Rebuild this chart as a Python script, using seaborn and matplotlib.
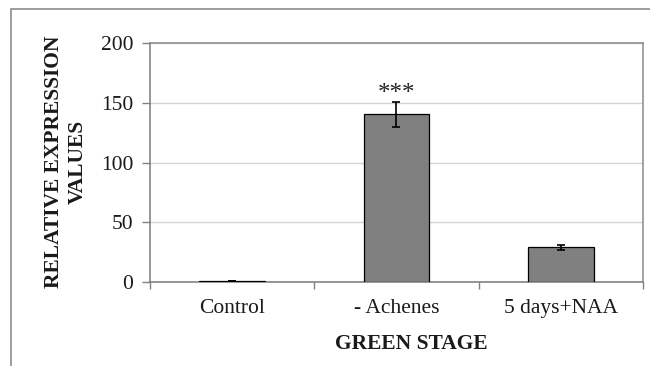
import matplotlib
matplotlib.use("Agg")
import matplotlib.pyplot as plt
from matplotlib.patches import Rectangle
import seaborn as sns
import pandas as pd

# Relative expression at the green stage
conditions = ["Control", "- Achenes", "5 days+NAA"]
expression = [1.0, 140.5, 29.0]
errors = [0.0, 10.5, 2.0]
significance = ["", "***", ""]
y_ticks = [0, 50, 100, 150, 200]

sns.set_theme(style="white")
plt.rcParams["font.family"] = ["Liberation Serif", "DejaVu Serif"]

fig = plt.figure(figsize=(6.5, 3.66), dpi=100)
ax = fig.add_axes([150 / 650, 1 - 282 / 366, 493 / 650, 239 / 366])

df = pd.DataFrame({"condition": conditions, "expression": expression})
sns.barplot(data=df, x="condition", y="expression", ax=ax, color="#808080",
            saturation=1, width=0.4, edgecolor="black", linewidth=0.9,
            errorbar=None, zorder=3)

ax.errorbar(range(len(conditions)), expression, yerr=errors, fmt="none",
            ecolor="black", elinewidth=1.2, capsize=3, capthick=1.2, zorder=4)

for i, (v, e, s) in enumerate(zip(expression, errors, significance)):
    if s:
        ax.text(i, v + e + 6.5, s, ha="center", va="center", fontsize=18,
                color="#222222")

ax.set_ylim(0, 200)
ax.set_xlim(-0.5, len(conditions) - 0.5)
ax.set_yticks(y_ticks)
ax.yaxis.grid(True, color="#d4d4d4", linewidth=1.0, zorder=0)
ax.set_axisbelow(True)

# category boundary ticks on x, labels at centers
ax.set_xticks([i + 0.5 for i in range(-1, len(conditions))], minor=True)
ax.tick_params(axis="x", which="major", length=0, pad=12, labelsize=15.5,
               colors="#1a1a1a")
ax.tick_params(axis="x", which="minor", length=5, width=1, color="#808080",
               direction="out", bottom=True)
ax.tick_params(axis="y", length=6, width=1, color="#808080", direction="out",
               left=True, pad=6, labelsize=15.5, labelcolor="#1a1a1a")

for side in ["left", "bottom", "top", "right"]:
    ax.spines[side].set_visible(True)
    ax.spines[side].set_linewidth(1.1)
ax.spines["left"].set_color("#7a7a7a")
ax.spines["bottom"].set_color("#7a7a7a")
ax.spines["top"].set_color("#8a8a8a")
ax.spines["right"].set_color("#8a8a8a")

ax.set_xlabel("")
ax.set_ylabel("")
fig.text(66 / 650, 1 - 162 / 366, "RELATIVE EXPRESSION\nVALUES", rotation=90,
         ha="center", va="center", fontsize=15.5, fontweight="bold",
         linespacing=1.25, color="#1a1a1a")
fig.text(411 / 650, 1 - 344 / 366, "GREEN STAGE", ha="center", va="center",
         fontsize=15.5, fontweight="bold", color="#1a1a1a")

# chart area frame
fig.patches.append(Rectangle((11 / 650, -0.1), 700 / 650, 1.1 - 9 / 366,
                             transform=fig.transFigure, fill=False,
                             edgecolor="#8c8c8c", linewidth=1.2))

fig.savefig("out.png", dpi=100, facecolor="white")
